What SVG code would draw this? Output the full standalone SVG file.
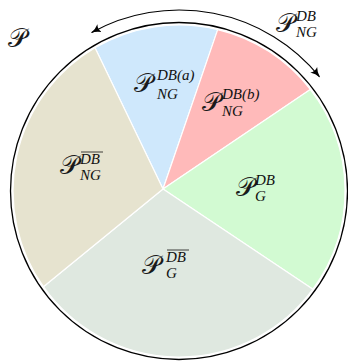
<svg xmlns="http://www.w3.org/2000/svg" width="348" height="361" viewBox="0 0 348 361">
<defs>
<marker id="ah" viewBox="0 0 10 10" refX="9" refY="5" markerWidth="10" markerHeight="10" markerUnits="userSpaceOnUse" orient="auto-start-reverse">
<path d="M0,0.5 Q4,4 10,5 Q4,6 0,9.5 Q2.5,5 0,0.5 Z" fill="#000"/>
</marker>
<style>
.w{stroke:#fff;stroke-width:1.2;stroke-linejoin:round}
.cal{font-family:"DejaVu Serif","DejaVu Sans",serif;font-style:normal;font-size:26px;fill:#1a1a1a}
.s{font-family:"Liberation Serif",serif;font-style:italic;font-size:15px;fill:#111}
.ol{stroke:#111;stroke-width:0.8}
</style>
</defs>
<rect width="348" height="361" fill="#fff"/>
<circle cx="179" cy="191" r="168.5" fill="none" stroke="#000" stroke-width="1.3"/>
<g id="wedge-ng-db-a">
<path class="w" d="M163,189 L95,47.8 A166,166 0 0 1 217.7,29.6 Z" fill="#cfe8fc"/>
<text class="cal" x="134" y="92">𝒫</text>
<text class="s" x="157" y="80">DB(a)</text>
<text class="s" x="157" y="99">NG</text>
</g>
<g id="wedge-ng-db-b">
<path class="w" d="M163,189 L217.7,29.6 A166,166 0 0 1 310.3,89.4 Z" fill="#ffbaba"/>
<text class="cal" x="202" y="111">𝒫</text>
<text class="s" x="222" y="99">DB(b)</text>
<text class="s" x="222" y="116">NG</text>
</g>
<g id="wedge-g-db">
<path class="w" d="M163,189 L310.3,89.4 A166,166 0 0 1 312.9,289.2 Z" fill="#d2fad2"/>
<text class="cal" x="236" y="196">𝒫</text>
<text class="s" x="255" y="185">DB</text>
<text class="s" x="255" y="201">G</text>
</g>
<g id="wedge-g-notdb">
<path class="w" d="M163,189 L312.9,289.2 A166,166 0 0 1 43.4,286.7 Z" fill="#dfe8e0"/>
<text class="cal" x="142" y="274">𝒫</text>
<line class="ol" x1="167" y1="250" x2="189" y2="250"/>
<text class="s" x="166" y="262">DB</text>
<text class="s" x="166" y="278">G</text>
</g>
<g id="wedge-ng-notdb">
<path class="w" d="M163,189 L43.4,286.7 A166,166 0 0 1 95,47.8 Z" fill="#e6e3cf"/>
<text class="cal" x="60" y="174">𝒫</text>
<line class="ol" x1="81" y1="152" x2="103" y2="152"/>
<text class="s" x="80" y="164">DB</text>
<text class="s" x="80" y="180">NG</text>
</g>
<g id="label-P">
<text class="cal" x="8" y="47">𝒫</text>
</g>
<g id="connectors">
<path d="M91.7,32.5 A181,181 0 0 1 319.4,76.7" fill="none" stroke="#000" stroke-width="1.1" marker-start="url(#ah)" marker-end="url(#ah)"/>
</g>
<g id="label-ng-db">
<text class="cal" x="276" y="32">𝒫</text>
<text class="s" x="296" y="21">DB</text>
<text class="s" x="296" y="37">NG</text>
</g>
</svg>
